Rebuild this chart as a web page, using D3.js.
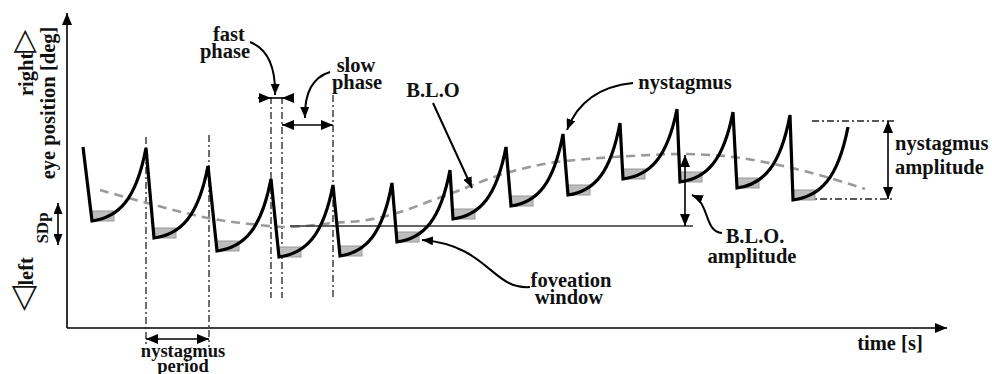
<!DOCTYPE html>
<html><head><meta charset="utf-8">
<script src="https://cdn.jsdelivr.net/npm/d3@7"></script>
<style>
body{margin:0;background:#fff}
svg{display:block}
text{font-family:"Liberation Serif","Times New Roman",serif;font-weight:bold;fill:#111}
</style>
</head><body>
<svg id="c" width="992" height="374"></svg>
<script>
// ---- data (time units, eye-position units) ----
const startPoint = [16, 181];
const endPoint = [781, 201];
const peakT   = [79,141,204,266,325,383,439,496,553,610,666,723];
const peakY   = [180,162,149,143,145,158,181,194,205,219,216,213];
const troughT = [25,87,150,212,273,330,386,444,501,556,613,670,726];
const troughY = [107,90,77,71,72,86,109,122,133,149,146,140,128];
const bloT = [33,80,141,183,223,266,300,333,366,383,433,483,533,583,616,666,716,763,798];
const bloY = [138,125,110,104,101,105,108,116,128,134,153,165,170,173,174,171,162,150,139];
const bloBaseY = 102;
const bloBaseT = [223, 626];
const fovWidth = 22, fovHeight = 10;

// ---- scales ----
const x = d3.scaleLinear().domain([0, 880]).range([67, 947]);
const y = d3.scaleLinear().domain([0, 315]).range([328, 13]);

const svg = d3.select("#c");
const defs = svg.append("defs");
function marker(id, len, wid){
  defs.append("marker").attr("id", id)
    .attr("viewBox", `0 0 ${len} ${wid}`)
    .attr("refX", len).attr("refY", wid/2)
    .attr("markerWidth", len).attr("markerHeight", wid)
    .attr("markerUnits", "userSpaceOnUse")
    .attr("orient", "auto-start-reverse")
    .append("path").attr("d", `M0,0L${len},${wid/2}L0,${wid}Z`).attr("fill", "#000");
}
marker("big", 12, 10);
marker("small", 11, 9);

// ---- axes ----
svg.append("line").attr("x1", x.range()[0]).attr("y1", y.range()[0])
  .attr("x2", x.range()[1]).attr("y2", y.range()[0])
  .attr("stroke", "#000").attr("stroke-width", 1.6).attr("marker-end", "url(#big)");
svg.append("line").attr("x1", x.range()[0]).attr("y1", y.range()[0])
  .attr("x2", x.range()[0]).attr("y2", y.range()[1])
  .attr("stroke", "#000").attr("stroke-width", 1.6).attr("marker-end", "url(#big)");

// ---- guide lines (dash-dot) ----
const dd = "7,3,2,3";
function vguide(px, y0, y1){
  svg.append("line").attr("x1", px).attr("x2", px).attr("y1", y0).attr("y2", y1)
    .attr("stroke", "#222").attr("stroke-width", 1.3).attr("stroke-dasharray", dd);
}
vguide(x(peakT[0]), 137, 347);
vguide(x(peakT[1]) + 1, 135, 347);
vguide(x(peakT[2]), 97, 298);
vguide(x(troughT[3]) + 3, 97, 298);
vguide(x(peakT[3]), 95, 298);

// nystagmus amplitude dash-dot horizontals
svg.append("line").attr("x1", 812).attr("x2", 895).attr("y1", 121).attr("y2", 121)
  .attr("stroke", "#222").attr("stroke-width", 1.3).attr("stroke-dasharray", dd);
svg.append("line").attr("x1", 805).attr("x2", 895).attr("y1", 199).attr("y2", 199)
  .attr("stroke", "#222").attr("stroke-width", 1.3).attr("stroke-dasharray", dd);

// ---- foveation windows ----
svg.append("g").selectAll("rect").data(troughT).join("rect")
  .attr("x", (d) => x(d))
  .attr("y", (d, i) => y(troughY[i] + fovHeight))
  .attr("width", (d) => x(d + fovWidth) - x(d))
  .attr("height", (d, i) => y(troughY[i]) - y(troughY[i] + fovHeight))
  .attr("fill", "#bdbdbd").attr("stroke", "#9a9a9a").attr("stroke-width", 1);

// ---- B.L.O. dashed ----
const bloLine = d3.line().x((d) => x(d)).y((d, i) => y(bloY[i])).curve(d3.curveCatmullRom);
svg.append("path").attr("d", bloLine(bloT)).attr("fill", "none")
  .attr("stroke", "#9a9a9a").attr("stroke-width", 2.6).attr("stroke-dasharray", "9,6");

// baseline of B.L.O.
svg.append("line").attr("x1", x(bloBaseT[0])).attr("x2", x(bloBaseT[1]))
  .attr("y1", y(bloBaseY)).attr("y2", y(bloBaseY))
  .attr("stroke", "#333").attr("stroke-width", 1.3);

// ---- nystagmus waveform ----
const p = d3.path();
p.moveTo(x(startPoint[0]), y(startPoint[1]));
troughT.forEach((t, i) => {
  const x0 = x(t), y0 = y(troughY[i]);
  p.lineTo(x0, y0);
  const tgt = i < peakT.length ? [peakT[i], peakY[i]] : endPoint;
  const x1 = x(tgt[0]), y1 = y(tgt[1]);
  const dx = x1 - x0, dy = y1 - y0;
  p.bezierCurveTo(x0 + 0.5*dx, y0 + 0.05*dy, x0 + 0.82*dx, y0 + 0.3*dy, x1, y1);
});
svg.append("path").attr("d", p.toString()).attr("fill", "none")
  .attr("stroke", "#000").attr("stroke-width", 3.2)
  .attr("stroke-linejoin", "miter").attr("stroke-miterlimit", 6);

// ---- arrows ----
function arrow(d, mk, both, w){
  const a = svg.append("path").attr("d", d).attr("fill", "none")
    .attr("stroke", "#000").attr("stroke-width", w || 1.6)
    .attr("marker-end", `url(#${mk})`);
  if (both) a.attr("marker-start", `url(#${mk})`);
}
// SDp
arrow("M58,245L58,203", "small", true, 1.6);
// nystagmus period
arrow("M146,339L209,339", "big", true);
// fast phase (inward heads)
arrow("M258,98L271,98", "big", false);
arrow("M293,98L282,98", "big", false);
svg.append("line").attr("x1", 271).attr("x2", 282).attr("y1", 98).attr("y2", 98).attr("stroke", "#000").attr("stroke-width", 1.6);
// slow phase
arrow("M282,125L333,125", "big", true);
// B.L.O. amplitude
arrow("M685,155L685,226", "big", true);
// nystagmus amplitude
arrow("M888,121L888,199", "big", true);

// curved callouts
arrow("M250,42Q276,52 275,95", "small", false, 2);
arrow("M330,72Q304,80 305,118", "small", false, 2);
arrow("M433,103L472,188", "small", false, 2);
arrow("M633,83Q583,88 567,130", "small", false, 2);
arrow("M530,287C492,290 488,245 422,240", "small", false, 2);
arrow("M722,233C704,232 710,203 692,195", "small", false, 2);

// ---- text ----
function label(str, px, py, anchor, size){
  svg.append("text").attr("x", px).attr("y", py)
    .attr("text-anchor", anchor || "middle")
    .attr("font-size", size || 20.5).text(str);
}
label("fast", 229, 41);
label("phase", 225, 58);
label("slow", 356, 72);
label("phase", 357, 89);
label("B.L.O", 433, 97);
label("nystagmus", 685, 89);
label("nystagmus", 895, 150, "start");
label("amplitude", 895, 174, "start");
label("B.L.O.", 755, 243);
label("amplitude", 752, 263);
label("foveation", 571, 287);
label("window", 569, 304);
label("time [s]", 890, 350);
label("nystagmus", 183, 357, "middle", 18.5);
label("period", 183, 372, "middle", 18.5);

// rotated y labels
const tl = svg.append("text").attr("transform", "translate(33,311) rotate(-90)")
  .attr("text-anchor", "start").attr("font-size", 20.5);
tl.append("tspan").attr("style", "font-family:'DejaVu Sans';font-weight:normal").attr("font-size", 33).text("\u25C1");
tl.append("tspan").text("left");

const tr = svg.append("text").attr("transform", "translate(33,96) rotate(-90)")
  .attr("text-anchor", "start").attr("font-size", 20.5);
tr.append("tspan").text("right");
tr.append("tspan").attr("style", "font-family:'DejaVu Sans';font-weight:normal").attr("font-size", 30).text("\u25B7");

svg.append("text").attr("transform", "translate(55,103) rotate(-90)")
  .attr("text-anchor", "middle").attr("font-size", 20.5).text("eye position [deg]");
svg.append("text").attr("transform", "translate(48,228) rotate(-90)")
  .attr("text-anchor", "middle").attr("font-size", 17).text("SDp");
</script>
</body></html>
